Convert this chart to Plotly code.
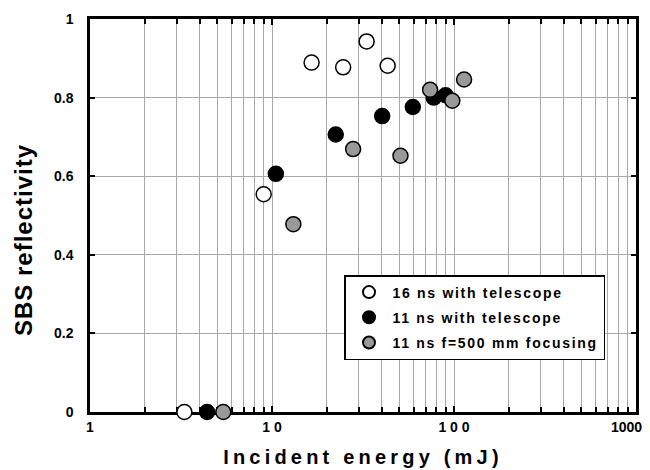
import math
import plotly.graph_objects as go

# Data (incident energy in mJ, SBS reflectivity)
series_names = ["16 ns with telescope", "11 ns with telescope", "11 ns f=500 mm focusing"]

energy_16ns_tel = [3.3, 9.0, 16.5, 24.6, 33.1, 43.2]
refl_16ns_tel = [0.0, 0.554, 0.889, 0.877, 0.943, 0.881]

energy_11ns_tel = [4.4, 10.5, 22.4, 40.3, 59.4, 77.4, 89.9]
refl_11ns_tel = [0.0, 0.606, 0.706, 0.753, 0.776, 0.800, 0.806]

energy_11ns_f500 = [5.4, 13.1, 27.9, 50.8, 73.9, 97.9, 113.6]
refl_11ns_f500 = [0.0, 0.478, 0.669, 0.652, 0.820, 0.792, 0.846]

x_tickvals = [1, 10, 100, 1000]
x_ticktext = ["1", "1 0", "1 0 0", "1000"]
y_tickvals = [0, 0.2, 0.4, 0.6, 0.8, 1.0]
y_ticktext = ["0", "0.2", "0.4", "0.6", "0.8", "1"]

x_title = "Incident energy (mJ)"
y_title = "SBS reflectivity"

fills = ["white", "black", "#999999"]
xs = [energy_16ns_tel, energy_11ns_tel, energy_11ns_f500]
ys = [refl_16ns_tel, refl_11ns_tel, refl_11ns_f500]

FONT = "Liberation Sans, Arial, Helvetica, sans-serif"
L, R, T, B = 90, 14, 19, 58
W, H = 650, 470
PW, PH = W - L - R, H - T - B


def spaced(txt, px):
    return '<span style="letter-spacing:%spx">%s</span>' % (px, txt)


fig = go.Figure()
for i, (name, x, y, c) in enumerate(zip(series_names, xs, ys, fills)):
    fig.add_trace(go.Scatter(
        x=x, y=y, mode="markers", name=spaced(name, 1.7),
        legendgroup="g%d" % i,
        marker=dict(size=15, color=c, line=dict(color="black", width=1.5)),
        cliponaxis=False,
    ))

tick_font = dict(family=FONT, size=14, weight="bold", color="black")
grid_c = "#a8a8a8"

# the last x tick label sits slightly left of its tick in the reference
# (it would otherwise run past the right edge), so it is drawn as an annotation
shown_ticktext = x_ticktext[:-1] + [""]
last_label = dict(
    text=x_ticktext[-1], xref="x", yref="paper",
    x=math.log10(x_tickvals[-1]), y=0,
    xanchor="center", yanchor="middle", xshift=-10, yshift=-15,
    showarrow=False, font=tick_font,
)

fig.update_layout(
    width=W, height=H,
    margin=dict(l=L, r=R, t=T, b=B),
    paper_bgcolor="white", plot_bgcolor="white",
    font=dict(family=FONT, color="black", size=14),
    showlegend=True,
    legend=dict(
        x=(344 - L) / PW, y=(H - B - 275) / PH, xanchor="left", yanchor="top",
        bordercolor="black", borderwidth=1.5, bgcolor="white",
        font=dict(family=FONT, size=14, weight="bold", color="black"),
        itemsizing="constant", tracegroupgap=4, itemwidth=37,
    ),
    xaxis=dict(
        type="log", range=[0, 3], automargin=False,
        tickvals=x_tickvals, ticktext=shown_ticktext,
        tickfont=tick_font,
        ticks="inside", ticklen=6, tickcolor="black", tickwidth=1.5,
        showline=True, linecolor="black", linewidth=2.5, mirror="allticks",
        showgrid=True, gridcolor=grid_c, gridwidth=1,
        minor=dict(dtick="D1", ticks="inside", ticklen=5, tickcolor="black",
                   showgrid=True, gridcolor=grid_c, gridwidth=1),
        zeroline=False, layer="below traces",
        title=dict(text=spaced(x_title, 4.2), standoff=17,
                   font=dict(family=FONT, size=20, weight="bold", color="black")),
    ),
    yaxis=dict(
        range=[0, 1], automargin=False,
        tickvals=y_tickvals, ticktext=y_ticktext,
        tickfont=tick_font,
        ticks="inside", ticklen=5, tickcolor="black", tickwidth=1.5,
        ticklabelstandoff=11,
        showline=True, linecolor="black", linewidth=2.5, mirror="allticks",
        showgrid=True, gridcolor=grid_c, gridwidth=1,
        zeroline=False, layer="below traces",
    ),
    annotations=[
        dict(
            text=spaced(y_title, 1), textangle=-90,
            xref="paper", yref="paper",
            x=(23 - L) / PW, y=(H - B - 240) / PH,
            xanchor="center", yanchor="middle", showarrow=False,
            font=dict(family=FONT, size=24, weight="bold", color="black"),
        ),
        last_label,
    ],
)

fig.write_html("out.html")
